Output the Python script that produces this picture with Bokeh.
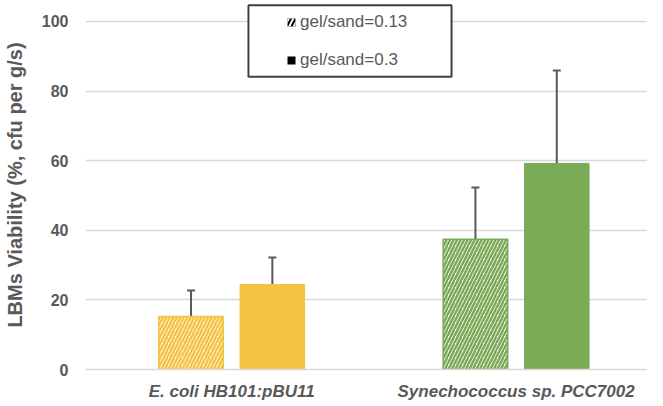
from bokeh.plotting import figure
from bokeh.models import (ColumnDataSource, Range1d, Whisker, TeeHead,
                          Legend, LegendItem, BoxAnnotation, FixedTicker)
from bokeh.transform import dodge
from bokeh.embed import file_html
from bokeh.resources import INLINE

# ---- data ----
categories = ["E. coli HB101:pBU11", "Synechococcus sp. PCC7002"]
series_labels = ["gel/sand=0.13", "gel/sand=0.3"]
viab_013 = [15.2, 37.4]
err_013 = [7.5, 14.9]
viab_03 = [24.4, 59.2]
err_03 = [7.8, 26.7]
bar_colors = ["#F4C242", "#7BAA57"]
y_ticks = [0, 20, 40, 60, 80, 100]

GRAY = "#595959"
FONT = "Liberation Sans"

xpos = [i + 0.5 for i in range(len(categories))]

src013 = ColumnDataSource(dict(x=xpos, top=viab_013,
                               upper=[v + e for v, e in zip(viab_013, err_013)],
                               color=bar_colors))
src03 = ColumnDataSource(dict(x=xpos, top=viab_03,
                              upper=[v + e for v, e in zip(viab_03, err_03)],
                              color=bar_colors))

p = figure(x_range=Range1d(-0.014, 1.962), y_range=Range1d(0, 106.0),
           width=647, height=403, output_backend="svg",
           toolbar_location=None, min_border_left=82, min_border_right=0,
           min_border_top=0, min_border_bottom=31)
p.outline_line_color = None
p.background_fill_color = "white"

OFF = 0.143
W = 0.227

p.vbar(x=dodge("x", -OFF), top="top", width=W, source=src013,
       fill_color="white", line_color="color", line_width=1.5,
       hatch_pattern="/", hatch_color="color", hatch_scale=7, hatch_weight=2.5)
p.vbar(x=dodge("x", OFF), top="top", width=W, source=src03,
       fill_color="color", line_color="color", line_width=1)

for src, off in ((src013, -OFF), (src03, OFF)):
    wh = Whisker(base=dodge("x", off), upper="upper", lower="top",
                 source=src, line_color=GRAY, line_width=2,
                 upper_head=TeeHead(size=8, line_color=GRAY, line_width=2),
                 lower_head=None)
    p.add_layout(wh)

# axes
p.xgrid.grid_line_color = None
p.ygrid.grid_line_color = "#d9d9d9"
p.ygrid.grid_line_width = 1.5
p.yaxis.ticker = FixedTicker(ticks=y_ticks)
p.yaxis.axis_line_color = None
p.yaxis.major_tick_line_color = None
p.yaxis.minor_tick_line_color = None
p.yaxis.major_tick_out = 0
p.yaxis.major_label_standoff = 17
p.yaxis.major_label_text_font = FONT
p.yaxis.major_label_text_font_size = "16px"
p.yaxis.major_label_text_font_style = "bold"
p.yaxis.major_label_text_color = GRAY
p.yaxis.axis_label = "LBMs Viability (%, cfu per g/s)"
p.yaxis.axis_label_text_font = FONT
p.yaxis.axis_label_text_font_size = "20px"
p.yaxis.axis_label_text_font_style = "bold"
p.yaxis.axis_label_text_color = GRAY
p.yaxis.axis_label_standoff = 13

p.xaxis.ticker = FixedTicker(ticks=xpos)
p.xaxis.major_label_overrides = {x: c for x, c in zip(xpos, categories)}
p.xaxis.axis_line_color = "#d9d9d9"
p.xaxis.axis_line_width = 1.5
p.xaxis.major_tick_line_color = None
p.xaxis.minor_tick_line_color = None
p.xaxis.major_tick_out = 0
p.xaxis.major_label_standoff = 12
p.xaxis.major_label_text_font = FONT
p.xaxis.major_label_text_font_size = "17px"
p.xaxis.major_label_text_font_style = "bold italic"
p.xaxis.major_label_text_color = GRAY

# legend frame
box = BoxAnnotation(left=0.559, right=1.273, top=104.6, bottom=84.1,
                    fill_color="white", fill_alpha=1,
                    line_color="#404040", line_width=2, line_alpha=1)
p.add_layout(box)

# legend dummy renderers (zero-height bars, only shown in the legend)
d1 = p.vbar(x=[xpos[0]], bottom=[0], top=[0], width=0.01,
            fill_color="black", line_color="black", line_alpha=0,
            hatch_pattern="/", hatch_color="white", hatch_scale=9, hatch_weight=2)
d2 = p.vbar(x=[xpos[0]], bottom=[0], top=[0], width=0.01,
            fill_color="black", line_color="black", line_alpha=0)
legend = Legend(items=[LegendItem(label=series_labels[0], renderers=[d1]),
                       LegendItem(label=series_labels[1], renderers=[d2])],
                location=(201, 299), orientation="vertical",
                padding=0, spacing=18, glyph_width=10, glyph_height=10,
                label_height=20, label_standoff=4,
                label_text_font=FONT, label_text_font_size="17px",
                label_text_color=GRAY,
                border_line_color=None, background_fill_alpha=0)
p.add_layout(legend, "center")

open("out.html", "w").write(file_html(p, INLINE))
